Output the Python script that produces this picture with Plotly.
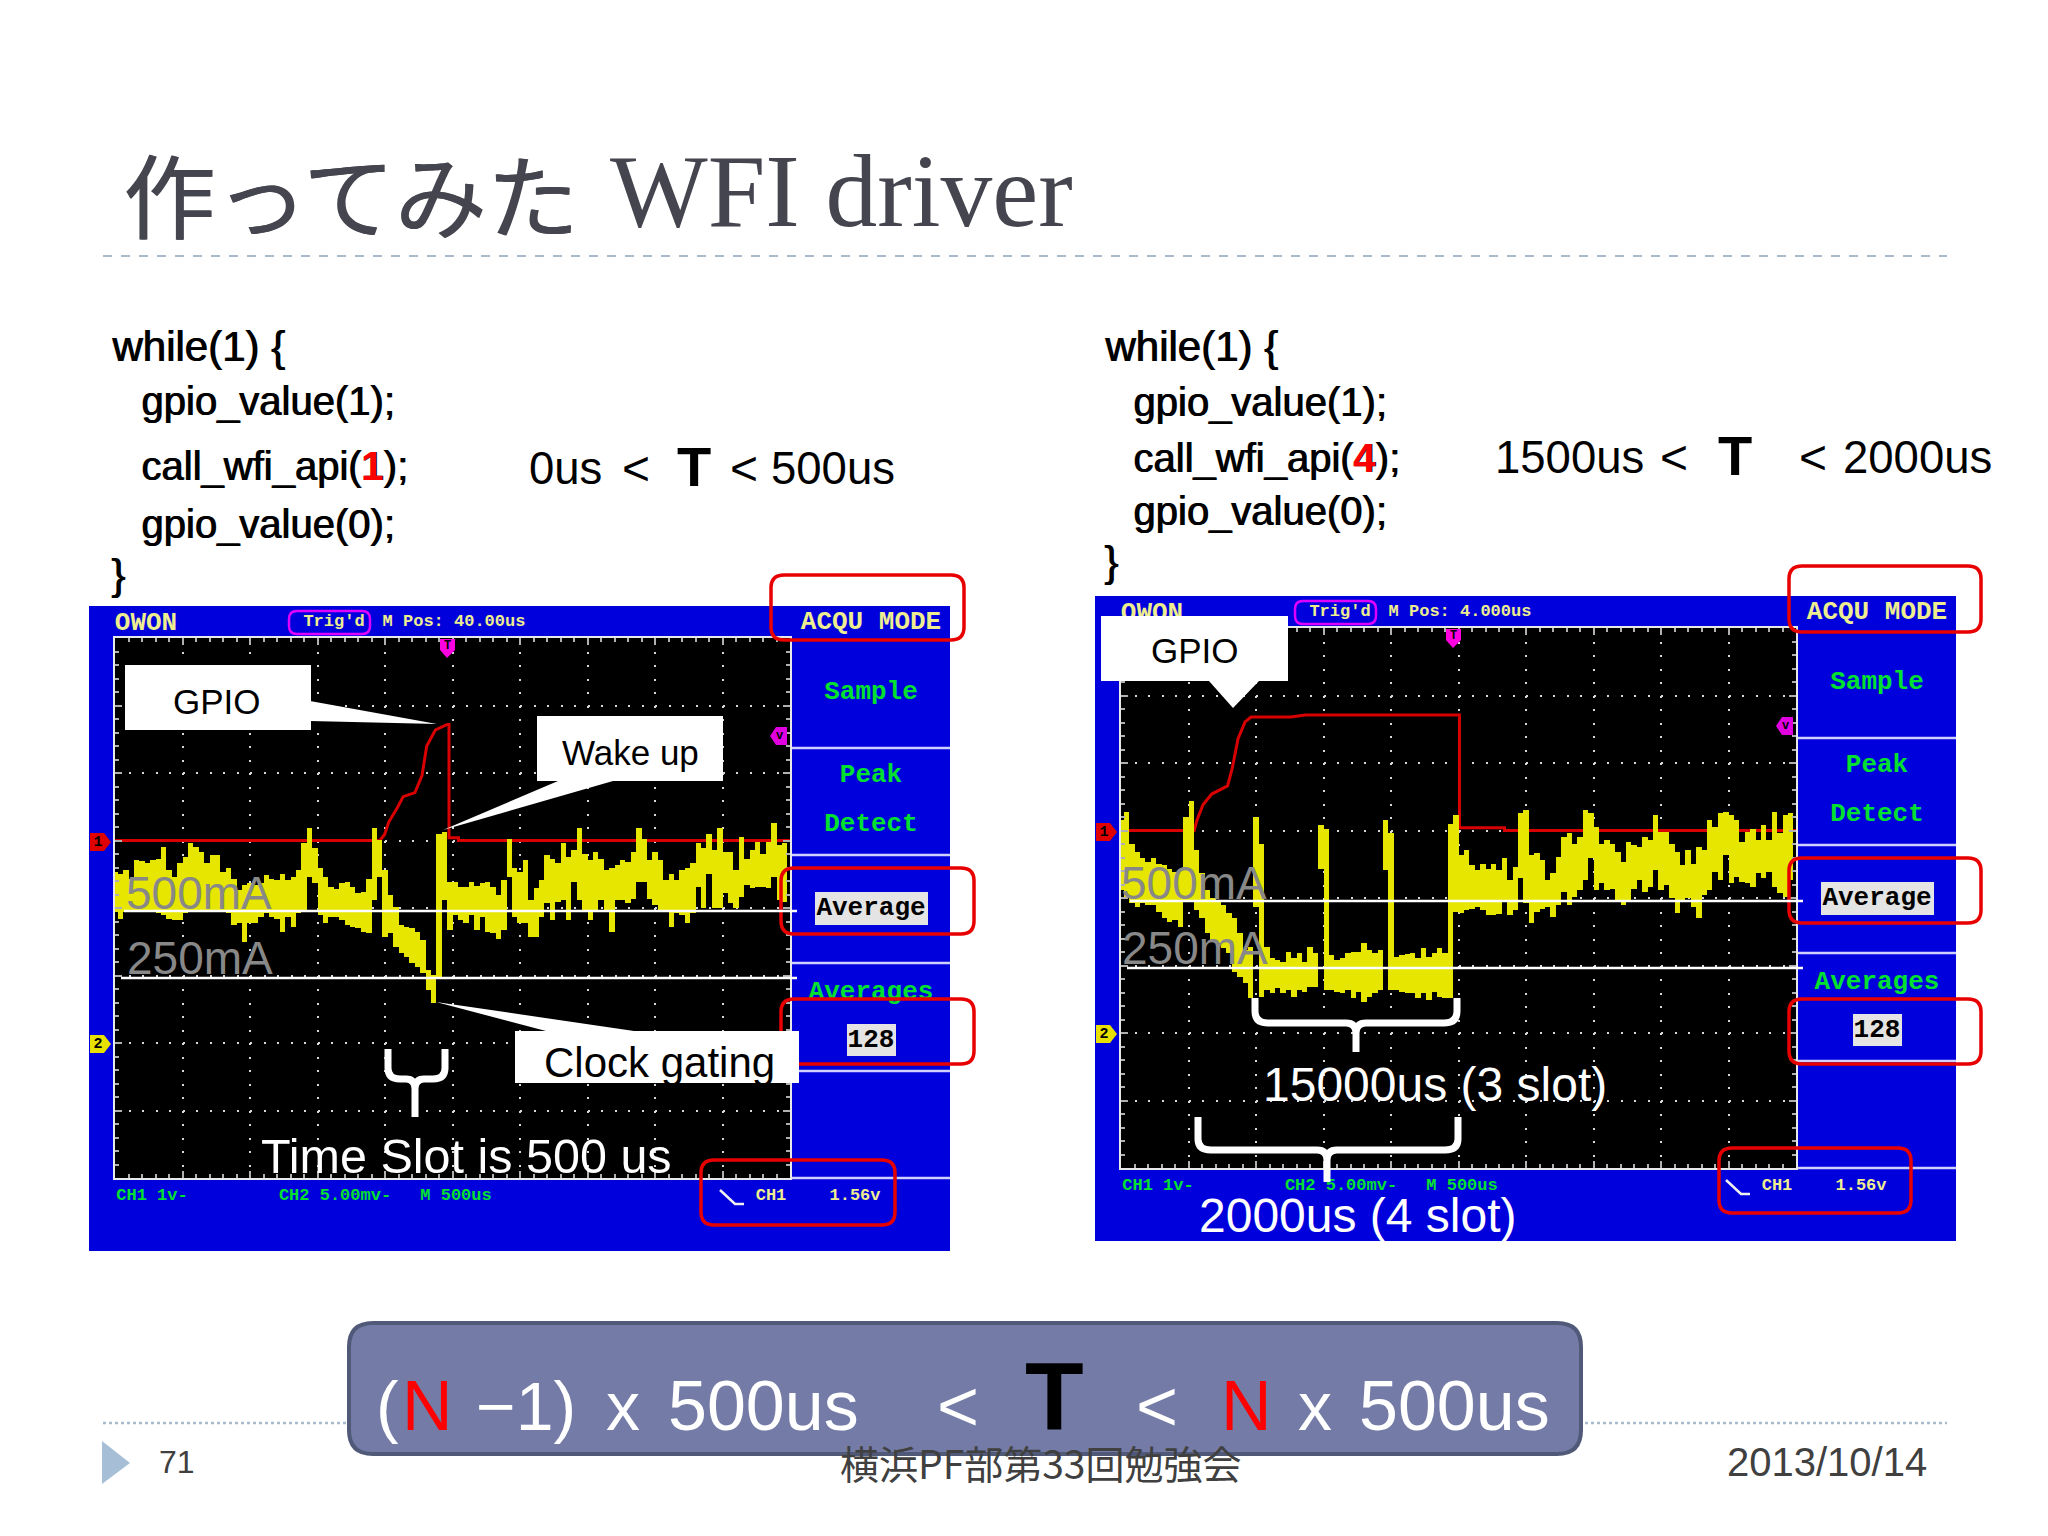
import plotly.graph_objects as go

# scope traces. one column = 40us, current in mA
t_us = list(range(0, 5000, 40))

left_top = [646, 640, 653, 621, 690, 688, 678, 690, 693, 740, 653, 628, 678, 703, 753, 740, 721, 678, 709, 709, 646, 659, 621, 578, 596,
            603, 596, 603, 634, 621, 615, 640, 615, 628, 653, 753, 809, 734, 659, 628, 590, 580, 603, 609, 588, 565, 571, 621, 809, 765,
            653, 559, 515, 446, 440, 434, 421, 390, 278, 259, 790, 796, 609, 609, 590, 588, 609, 593, 603, 609, 588, 559, 615, 771, 659,
            646, 690, 540, 584, 615, 709, 696, 678, 753, 703, 728, 809, 715, 690, 721, 696, 653, 659, 671, 690, 684, 721, 809, 771, 690,
            721, 690, 615, 640, 615, 653, 659, 678, 753, 734, 790, 728, 809, 721, 721, 653, 778, 696, 728, 759, 715, 759, 828, 746, 753]
left_bottom = [496, 471, 496, 496, 496, 496, 496, 496, 490, 484, 471, 465, 465, 490, 496, 496, 496, 496, 496, 496, 496, 490, 446, 453, 384,
               453, 453, 478, 490, 478, 471, 421, 478, 440, 490, 496, 628, 603, 484, 453, 478, 478, 465, 446, 440, 434, 421, 415, 540, 628,
               403, 415, 365, 340, 328, 303, 290, 265, 202, 153, 253, 540, 428, 484, 465, 453, 484, 428, 478, 421, 415, 393, 428, 628, 478,
               453, 453, 403, 403, 478, 528, 465, 534, 540, 465, 609, 540, 503, 465, 496, 540, 496, 421, 540, 540, 528, 546, 609, 609, 546,
               521, 503, 496, 440, 490, 484, 453, 490, 590, 509, 640, 509, 509, 565, 528, 509, 553, 596, 584, 590, 590, 584, 628, 540, 534]

right_top = [803, 834, 715, 684, 659, 646, 659, 640, 634, 621, 609, 615, 815, 874, 690, 603, 540, 509, 496, 484, 453, 434, 378, 315, 328,
             815, 715, 328, 284, 278, 271, 309, 284, 303, 271, 328, 303, 784, 771, 296, 278, 284, 303, 309, 309, 340, 315, 303, 315, 803,
             753, 290, 296, 300, 303, 284, 321, 290, 303, 321, 303, 790, 821, 671, 690, 634, 615, 640, 621, 640, 615, 659, 578, 628, 828,
             840, 671, 680, 653, 578, 603, 665, 740, 753, 715, 740, 840, 828, 778, 715, 728, 715, 684, 646, 721, 709, 703, 740, 728, 821,
             759, 759, 715, 684, 634, 690, 640, 703, 690, 803, 778, 828, 834, 821, 803, 721, 759, 771, 728, 784, 728, 834, 753, 821, 828]
right_bottom = [540, 515, 490, 478, 490, 484, 484, 459, 434, 421, 428, 403, 503, 503, 465, 434, 378, 353, 340, 321, 303, 234, 215, 190, 134,
                478, 140, 165, 153, 171, 153, 165, 140, 165, 159, 178, 178, 621, 165, 165, 159, 153, 165, 134, 159, 121, 140, 153, 165, 615,
                165, 165, 159, 153, 153, 134, 153, 128, 159, 140, 134, 134, 459, 453, 465, 471, 478, 465, 446, 446, 450, 496, 446, 465, 584,
                490, 415, 459, 471, 478, 440, 484, 534, 484, 515, 540, 578, 659, 540, 565, 540, 546, 503, 484, 503, 546, 578, 534, 553, 615,
                540, 559, 509, 453, 496, 509, 478, 434, 521, 540, 609, 578, 671, 565, 590, 571, 565, 553, 603, 584, 609, 553, 528, 515, 578]

# channel 1 (gpio), volts
left_gpio_t = [0, 1962, 1997, 2027, 2092, 2135, 2222, 2274, 2309, 2374, 2461, 2474, 2474, 2544, 2544, 5000]
left_gpio_v = [0, 0, 0.09, 0.27, 0.49, 0.65, 0.71, 0.96, 1.40, 1.64, 1.72, 1.72, 0.04, 0.04, 0, 0]
right_gpio_t = [0, 542, 564, 607, 672, 789, 824, 867, 919, 963, 1258, 1366, 2507, 2507, 2841, 2841, 5000]
right_gpio_v = [0, 0, 0.16, 0.38, 0.54, 0.66, 0.92, 1.36, 1.61, 1.68, 1.68, 1.71, 1.71, 0.04, 0.04, 0, 0]

left_pos = "M Pos: 40.00us"
right_pos = "M Pos: 4.000us"
menu_labels = ["Sample", "Peak", "Detect", "Averages"]

# screen geometry in page pixels
PLOT = (115, 790, 638, 1178)
RIGHT_SHIFT = (1006, -10)
MA_RANGE = [-503, 1524]
BLUE = "#0000DC"
GREEN = "#00E030"
PALE = "#EEEE90"
SCOPE_FONT = "Liberation Mono"
SANS = "Liberation Sans"
CJK = "Noto Sans CJK JP"

left_marks = [(771, 575, 964, 640), (781, 868, 974, 934), (781, 999, 974, 1064), (701, 1160, 895, 1225)]
right_marks = [(1789, 566, 1981, 632), (1789, 858, 1981, 923), (1789, 999, 1981, 1064), (1719, 1148, 1911, 1213)]

fig = go.Figure()
shapes = []
notes = []


def rect(x0, y0, x1, y1, fill, layer="below", line=None):
    shapes.append(dict(type="rect", x0=x0, y0=y0, x1=x1, y1=y1, xref="x", yref="y", fillcolor=fill,
                       line=line or dict(width=0), layer=layer))


def path(d, fill=None, color=None, width=0, layer="above"):
    shapes.append(dict(type="path", path=d, xref="x", yref="y", fillcolor=fill or "rgba(0,0,0,0)",
                       line=dict(color=color or "rgba(0,0,0,0)", width=width), layer=layer))


def rounded(x0, y0, x1, y1, r):
    return (f"M{x0+r},{y0} L{x1-r},{y0} Q{x1},{y0} {x1},{y0+r} L{x1},{y1-r} Q{x1},{y1} {x1-r},{y1} "
            f"L{x0+r},{y1} Q{x0},{y1} {x0},{y1-r} L{x0},{y0+r} Q{x0},{y0} {x0+r},{y0} Z")


def hline(x0, x1, y, color, width, dash="solid", layer="above"):
    shapes.append(dict(type="line", x0=x0, x1=x1, y0=y, y1=y, xref="x", yref="y",
                       line=dict(color=color, width=width, dash=dash), layer=layer))


def note(x, y, text, size, color="black", family=SANS, anchor="left", **kw):
    notes.append(dict(x=x, y=y, xref="x", yref="y", text=text, showarrow=False, xanchor=anchor, yanchor="middle",
                      font=dict(size=size, color=color, family=family, **kw)))


# panel text goes in as traces so the white callouts can cover it
def screen_text(x, y, text, size, color):
    fig.add_trace(go.Scatter(x=[x], y=[y], mode="text", text=[f"<b>{text}</b>"], textposition="middle center",
                             textfont=dict(size=size, color=color, family=SCOPE_FONT),
                             xaxis="x", yaxis="y", showlegend=False, hoverinfo="skip"))


def draw_panel(dx, dy, pos_text, marks, label_x):
    px0, px1, py0, py1 = PLOT
    rect(89 + dx, 606 + dy, 950 + dx, 1251 + dy, BLUE)
    rect(px0 + dx, py0 + dy, px1 + dx, py1 + dy, "black")
    for y in [748, 855, 963, 1071, 1178]:
        hline(px1 + dx, 950 + dx, y + dy, "#D0D0FF", 2.5, layer="below")
    screen_text(146 + dx, 623 + dy, "OWON", 26, PALE)
    screen_text(334 + dx, 622 + dy, "Trig'd", 17, PALE)
    path(rounded(289 + dx, 611 + dy, 370 + dx, 634 + dy, 8), color="#E000FF", width=2.5, layer="below")
    screen_text(454 + dx, 622 + dy, pos_text, 17, PALE)
    screen_text(871 + dx, 622 + dy, "ACQU MODE", 26, PALE)
    for label, y in zip(menu_labels, [692, 775, 824, 992]):
        screen_text(871 + dx, y + dy, label, 26, GREEN)
    rect(815 + dx, 892 + dy, 928 + dx, 925 + dy, "#E4E4E4")
    screen_text(871 + dx, 908 + dy, "Average", 26, "black")
    rect(847 + dx, 1024 + dy, 896 + dx, 1056 + dy, "#E4E4E4")
    screen_text(871 + dx, 1040 + dy, "128", 26, "black")
    screen_text(152 + dx, 1196 + dy, "CH1 1v-", 17, GREEN)
    screen_text(335 + dx, 1196 + dy, "CH2 5.00mv-", 17, GREEN)
    screen_text(456 + dx, 1196 + dy, "M 500us", 17, GREEN)
    screen_text(771 + dx, 1196 + dy, "CH1", 17, PALE)
    screen_text(855 + dx, 1196 + dy, "1.56v", 17, PALE)
    path(f"M{720+dx},{1190+dy} L{735+dx},{1204+dy} L{744+dx},{1204+dy}", color="#F0F0F0", width=2.5, layer="below")
    # channel and trigger markers
    path(f"M{90+dx},{833+dy} L{104+dx},{833+dy} L{111+dx},{842+dy} L{104+dx},{851+dy} L{90+dx},{851+dy} Z", fill="#E00000", layer="below")
    path(f"M{90+dx},{1035+dy} L{104+dx},{1035+dy} L{111+dx},{1044+dy} L{104+dx},{1053+dy} L{90+dx},{1053+dy} Z", fill="#E8E000", layer="below")
    screen_text(98 + dx, 842 + dy, "1", 15, "black")
    screen_text(98 + dx, 1044 + dy, "2", 15, "black")
    path(f"M{440+dx},{639+dy} L{455+dx},{639+dy} L{455+dx},{650+dy} L{447+dx},{658+dy} L{440+dx},{650+dy} Z", fill="#FF00E0")
    note(447 + dx, 646 + dy, "<b>T</b>", 12, "black", SCOPE_FONT, "center")
    path(f"M{770+dx},{736+dy} L{776+dx},{727+dy} L{787+dx},{727+dy} L{787+dx},{745+dy} L{776+dx},{745+dy} Z", fill="#E000E0")
    note(779 + dx, 736 + dy, "<b>v</b>", 12, "black", SCOPE_FONT, "center")
    # red marks on top of the screen
    for x0, y0, x1, y1 in marks:
        path(rounded(x0, y0, x1, y1, 13), color="#E80000", width=3.5)
    # level lines and labels
    hline(124 + dx, 797 + dx, 911 + dy, "white", 2.5)
    hline(121 + dx, 797 + dx, 978 + dy, "white", 2.5)
    note(label_x, 893 + dy, "500mA", 46, "#888888")
    note(label_x + 1, 958 + dy, "250mA", 46, "#888888")


def add_scope(n, dx, dy, gpio_t, gpio_v, top, bottom):
    x_name, y_name, ma_name = f"x{n}", f"y{n}", f"y{n + 1}"
    fig.add_trace(go.Scatter(x=gpio_t, y=gpio_v, mode="lines", line=dict(color="#D80000", width=3),
                             xaxis=x_name, yaxis=y_name, showlegend=False))
    fig.add_trace(go.Bar(x=t_us, y=[a - b for a, b in zip(top, bottom)], base=bottom, width=40,
                         marker=dict(color="#E6E600", line=dict(width=0)),
                         xaxis=x_name, yaxis=ma_name, showlegend=False))
    px0, px1, py0, py1 = PLOT
    border = dict(showline=True, linecolor="#E8E8E8", linewidth=2, mirror="ticks", ticks="inside", ticklen=7,
                  tickcolor="#B0B0B0", tickwidth=1.5, showticklabels=False, zeroline=False, showgrid=True,
                  gridcolor="#D8D8D8", griddash="2px,11.5px", gridwidth=1.5,
                  )
    fig.update_layout({
        f"xaxis{n}": dict(domain=[(px0 + dx) / 2048, (px1 + dx) / 2048], range=[0, 5000], anchor=y_name, tick0=0, dtick=500,
                          minor=dict(ticks="inside", dtick=100, ticklen=4, tickcolor="#B0B0B0"), **border),
        f"yaxis{n}": dict(domain=[1 - (py1 + dy) / 1536, 1 - (py0 + dy) / 1536], range=[-5, 3], anchor=x_name, tick0=-5, dtick=1,
                          minor=dict(ticks="inside", dtick=0.2, ticklen=4, tickcolor="#B0B0B0"), **border),
        f"yaxis{n + 1}": dict(overlaying=y_name, anchor=x_name, range=MA_RANGE, visible=False),
    })


dx, dy = RIGHT_SHIFT
draw_panel(0, 0, left_pos, left_marks, 124)
draw_panel(dx, dy, right_pos, right_marks, 1119)
add_scope(2, 0, 0, left_gpio_t, left_gpio_v, left_top, left_bottom)
add_scope(4, dx, dy, right_gpio_t, right_gpio_v, right_top, right_bottom)

# callouts left
path("M310,701 L437,724 L310,721 Z", fill="white")
rect(125, 665, 311, 730, "white", "above")
note(217, 701, "GPIO", 35, anchor="center")
path("M558,781 L443,830 L613,781 Z", fill="white")
rect(537, 716, 723, 781, "white", "above")
note(630, 752, "Wake up", 35, anchor="center")
path("M546,1031 L436,1002 L634,1031 Z", fill="white")
rect(515, 1031, 799, 1083, "white", "above")
note(659, 1062, "Clock gating", 42, anchor="center")
path("M388,1049 L388,1068 Q388,1079 400,1079 L406,1079 Q415,1079 415,1089 L415,1117 M445,1049 L445,1068 Q445,1079 433,1079 L424,1079 Q415,1079 415,1089",
     color="white", width=7)
note(466, 1156, "Time Slot is 500 us", 48.5, "white", anchor="center")

# callouts right
path("M1209,681 L1233,708 L1259,681 Z", fill="white")
rect(1101, 616, 1288, 681, "white", "above")
note(1195, 650, "GPIO", 35, anchor="center")
path("M1255,998 L1255,1011 Q1255,1023 1268,1023 L1346,1023 Q1356,1023 1356,1033 L1356,1052 M1457,998 L1457,1011 Q1457,1023 1444,1023 L1366,1023 Q1356,1023 1356,1033",
     color="white", width=7)
note(1435, 1084, "15000us (3 slot)", 48, "white", anchor="center")
path("M1198,1117 L1198,1139 Q1198,1150 1211,1150 L1317,1150 Q1327,1150 1327,1160 L1327,1182 M1458,1117 L1458,1139 Q1458,1150 1445,1150 L1337,1150 Q1327,1150 1327,1160",
     color="white", width=7)
note(1358, 1215, "2000us (4 slot)", 48, "white", anchor="center")

# slide furniture
title_ink = dict(shadow="1px 0 0 #45454F")
note(121, 191, "作ってみた", 92, "#45454F", CJK, **title_ink)
note(608, 191, "WFI driver", 103.5, "#45454F", "Liberation Serif")
hline(103, 1947, 256, "#A9BBCB", 2, "dash", "below")
hline(103, 1947, 1423, "#A9BBCB", 2.5, "dot", "below")

bold = dict(shadow="1px 0 0 #000000")
code_left = ["while(1) {", "  gpio_value(1);", "  call_wfi_api(<span style='color:#FF0000'><b>1</b></span>);", "  gpio_value(0);", "}"]
code_right = ["while(1) {", "  gpio_value(1);", "  call_wfi_api(<span style='color:#FF0000'><b>4</b></span>);", "  gpio_value(0);", "}"]
for line, y in zip(code_left, [346, 401, 466, 524, 574]):
    if line.startswith(" "):
        note(139, y, line.strip(), 40, **bold)
    else:
        note(109, y, line, 42, **bold)
for line, y in zip(code_right, [346, 402, 458, 511, 561]):
    if line.startswith(" "):
        note(1131, y, line.strip(), 40, **bold)
    else:
        note(1102, y, line, 42, **bold)

note(527, 468, "0us", 45.5)
note(620, 468, "&lt;", 48)
note(675, 466, "<b>T</b>", 56)
note(728, 468, "&lt;", 48)
note(769, 468, "500us", 45.5)
note(1493, 457, "1500us", 45.5)
note(1658, 457, "&lt;", 48)
note(1716, 455, "<b>T</b>", 56)
note(1797, 457, "&lt;", 48)
note(1841, 457, "2000us", 45.5)

# formula box
path(rounded(349, 1323, 1581, 1454, 24), fill="#737BA6", color="#505A78", width=4, layer="above")
note(374, 1406, "(", 68, "white")
note(400, 1406, "N", 70, "#FF0000")
note(474, 1406, "−1)", 68, "white")
note(604, 1406, "x", 68, "white")
note(666, 1406, "500us", 70, "white")
note(935, 1406, "&lt;", 72, "white")
note(1023, 1396, "<b>T</b>", 96, "black")
note(1134, 1406, "&lt;", 72, "white")
note(1219, 1406, "N", 70, "#FF0000")
note(1296, 1406, "x", 68, "white")
note(1357, 1406, "500us", 70, "white")

path("M102,1441 L130,1463 L102,1484 Z", fill="#A6BFD6", layer="below")
note(157, 1462, "71", 32, "#404040")
note(1041, 1462, "横浜PF部第33回勉強会", 39, "#404040", CJK, "center")
note(1929, 1462, "2013/10/14", 40, "#404040", anchor="right")

fig.update_layout(
    width=2048, height=1536, margin=dict(l=0, r=0, t=0, b=0, pad=0),
    paper_bgcolor="white", plot_bgcolor="rgba(0,0,0,0)", barmode="overlay", bargap=0,
    xaxis=dict(range=[0, 2048], visible=False, domain=[0, 1]),
    yaxis=dict(range=[1536, 0], visible=False, domain=[0, 1]),
    shapes=shapes, annotations=notes, showlegend=False,
)
fig.write_html("out.html", config={"displayModeBar": False}, post_script="document.body.style.margin='0';")
